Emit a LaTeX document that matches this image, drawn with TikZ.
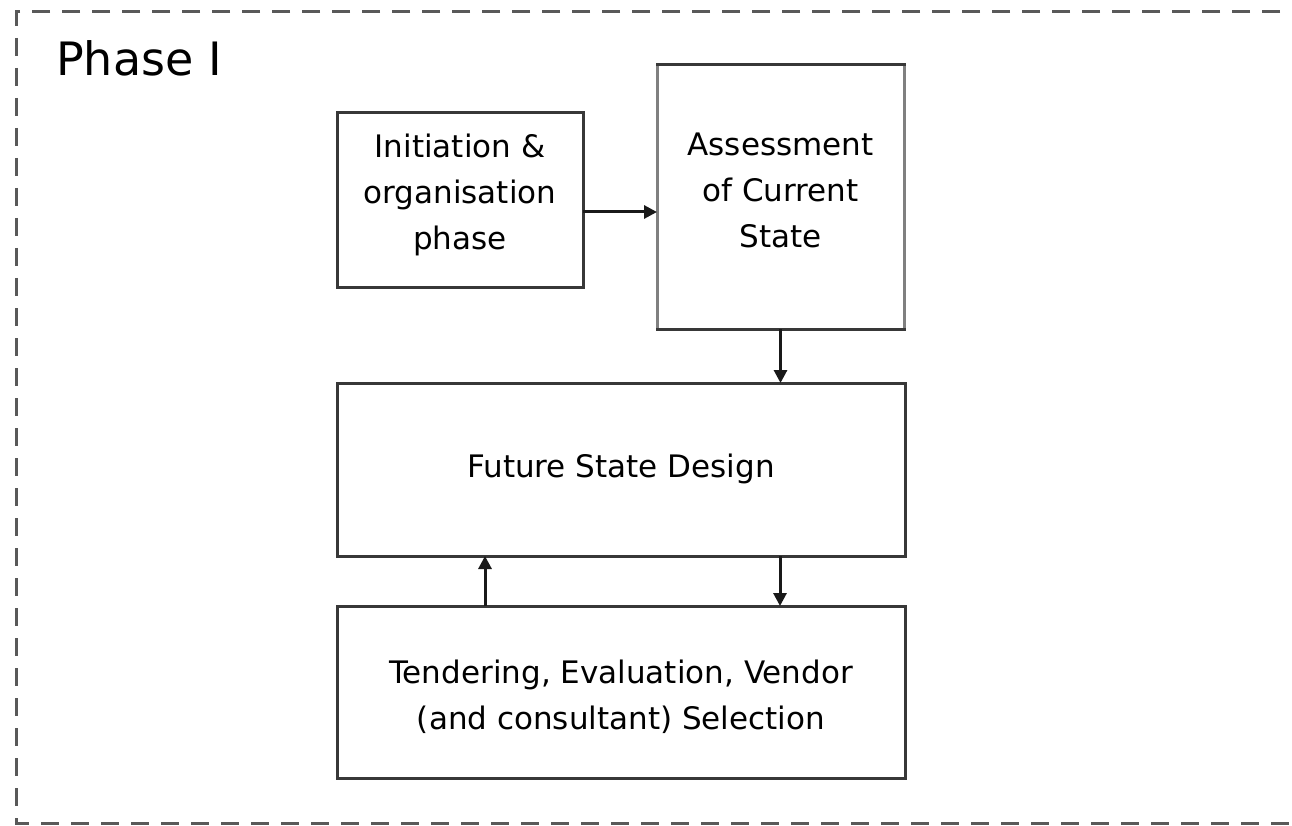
\documentclass[tikz,border=0pt]{standalone}
\usepackage{fontspec}
\setmainfont{DejaVu Sans}
\usetikzlibrary{arrows.meta}
\begin{document}
\begin{tikzpicture}[x=1pt,y=-1pt,
  stagebox/.style={draw=black!78,line width=3pt,fill=white,inner sep=0pt,outer sep=0pt},
  lbl/.style={align=center,font=\fontsize{31}{46}\selectfont,inner sep=0pt},
  arr/.style={line width=3pt,black!90,-{Triangle[length=13pt,width=13pt]}},
  frame/.style={draw=black!65,line width=3pt,dash pattern=on 18pt off 12pt}]
\useasboundingbox (0,0) rectangle (1292,826);
\clip (0,0) rectangle (1292,826);
\fill[white] (0,0) rectangle (1292,826);

% dashed phase frame, open to the right
\coordinate (frTR) at (1310,12);
\coordinate (frTL) at (16,12);
\coordinate (frBL) at (16,823);
\coordinate (frBR) at (1310,823);
\draw[frame] (frTR) -- (frTL) -- (frBL) -- (frBR);

\node[anchor=base west,font=\fontsize{46}{56}\selectfont,inner sep=0pt] (phase) at (56,76) {Phase I};

% stages
\node[stagebox,minimum width=246pt,minimum height=174pt] (init) at (460,200) {};
\node[stagebox,minimum width=247pt,minimum height=264pt] (assess) at (780.5,197) {};
\draw[black!50,line width=3pt] ([yshift=-1.5pt]assess.north west) -- ([yshift=1.5pt]assess.south west)
      ([yshift=-1.5pt]assess.north east) -- ([yshift=1.5pt]assess.south east);
\node[stagebox,minimum width=568pt,minimum height=173pt] (future) at (621,469.5) {};
\node[stagebox,minimum width=568pt,minimum height=172pt] (tender) at (621,692) {};

\node[lbl] (initT) at ([yshift=5pt]init.center) {Initiation \&\\organisation\\phase};
\node[lbl] (assessT) at ([yshift=7pt]assess.center) {Assessment\\of Current\\State};
\node[lbl] (futureT) at ([yshift=1pt]future.center) {Future State Design};
\node[lbl] (tenderT) at ([yshift=-5pt]tender.center) {Tendering, Evaluation, Vendor\\(and consultant) Selection};

% flow between stages
\draw[arr] ([yshift=-12pt]init.east) -- ([yshift=-12pt]init.east -| assess.west);
\draw[arr] (assess.south) -- (future.north -| assess.south);
\draw[arr] ([xshift=-136pt]tender.north) -- ([xshift=-136pt]future.south);
\draw[arr] ([xshift=159pt]future.south) -- ([xshift=159pt]tender.north);
\end{tikzpicture}
\end{document}
